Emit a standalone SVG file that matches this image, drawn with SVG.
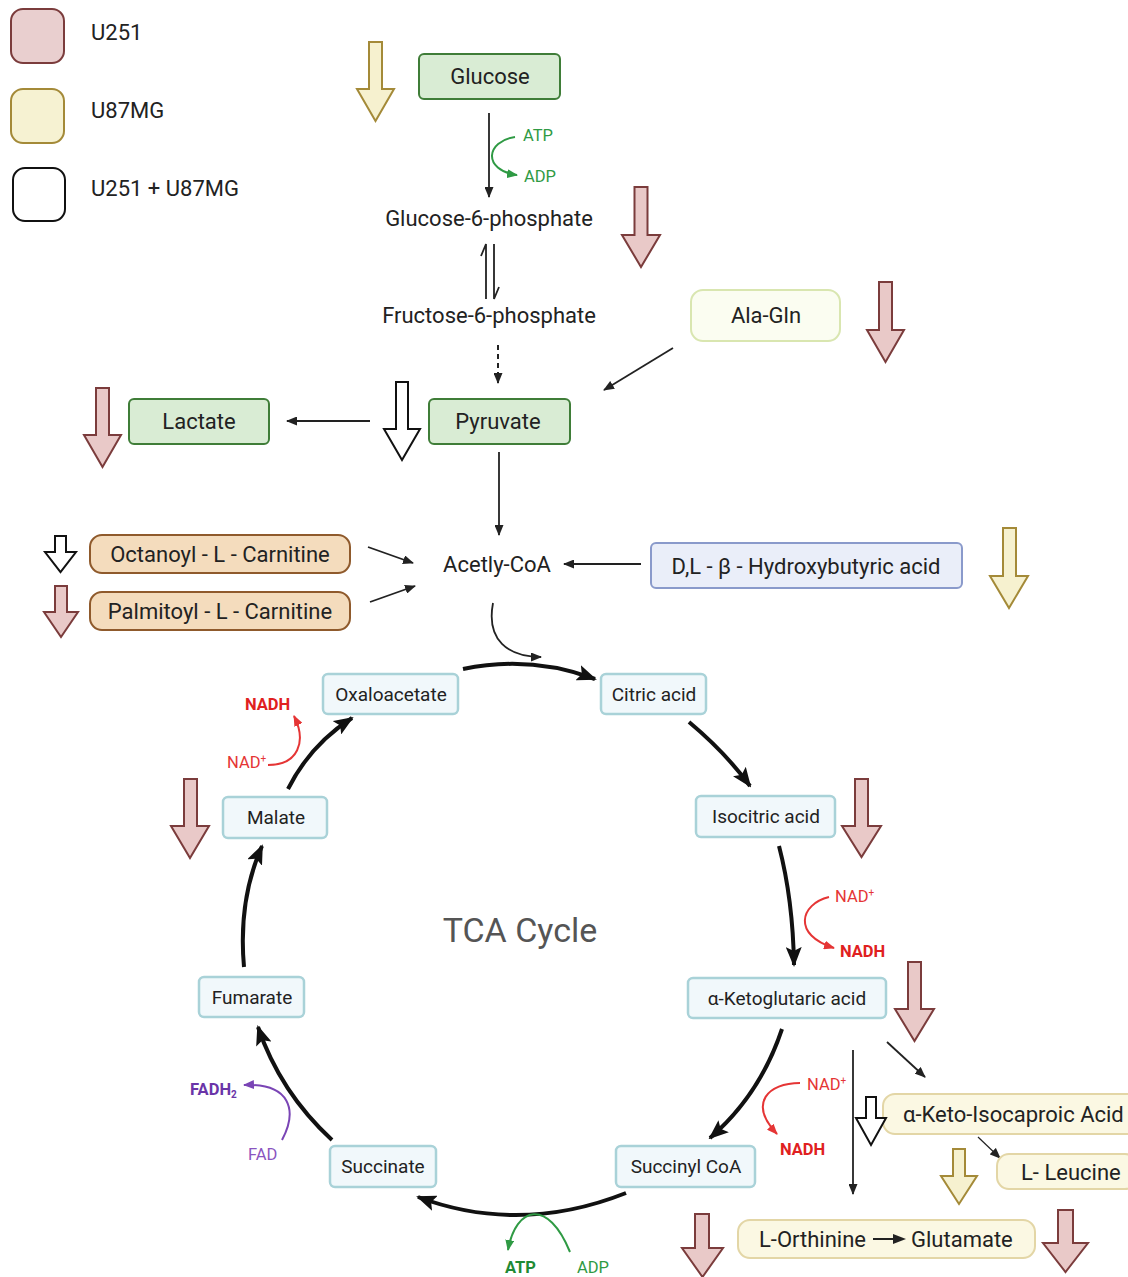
<svg xmlns="http://www.w3.org/2000/svg" width="1128" height="1277" viewBox="0 0 1128 1277">
<defs>
<style>
text{font-family:Roboto,"Liberation Sans",sans-serif;fill:#222}
.lg{font-size:22px}
.nt{font-size:22px;text-anchor:middle}
.tc{font-size:19px;text-anchor:middle}
.green{fill:#d9ecd4;stroke:#3f7d38;stroke-width:2}
.tan{fill:#f4dcbd;stroke:#8f5a2c;stroke-width:2}
.lav{fill:#eaeef9;stroke:#8a9acb;stroke-width:2}
.tcab{fill:#f1f8fb;stroke:#a9d2d8;stroke-width:2.5}
.yel{fill:#fbf8e3;stroke:#e3d6a6;stroke-width:2}
.aglow{fill:#fbfdf1;stroke:#d9e6b0;stroke-width:2}
.pink{fill:#e9c9c8;stroke:#7b3c3c;stroke-width:2;stroke-linejoin:miter}
.ylw{fill:#f6f1cf;stroke:#a48a38;stroke-width:2}
.wht{fill:#fff;stroke:#111;stroke-width:2}
.thin{fill:none;stroke:#222;stroke-width:1.8}
.thick{fill:none;stroke:#111;stroke-width:4}
.red{fill:#e53535;font-size:16.5px}
.redb{fill:#e02020;font-size:16.5px;font-weight:bold}
.grn{fill:#2f9a44;font-size:16.5px}
.grnb{fill:#1f8a35;font-size:16.5px;font-weight:bold}
.pur{fill:#8a55c0;font-size:16.5px}
.purb{fill:#6a35a8;font-size:16.5px;font-weight:bold}
</style>
<marker id="ah" markerUnits="userSpaceOnUse" markerWidth="11" markerHeight="9" refX="10" refY="4.5" orient="auto"><path d="M0,0 L11,4.5 L0,9 z" fill="#222"/></marker>
<marker id="ahb" markerUnits="userSpaceOnUse" markerWidth="20" markerHeight="16" refX="18" refY="8" orient="auto"><path d="M0,0 L20,8 L0,16 L4,8 z" fill="#111"/></marker>
<marker id="ahr" markerUnits="userSpaceOnUse" markerWidth="11" markerHeight="9" refX="10" refY="4.5" orient="auto"><path d="M0,0 L11,4.5 L0,9 z" fill="#e53535"/></marker>
<marker id="ahg" markerUnits="userSpaceOnUse" markerWidth="11" markerHeight="9" refX="10" refY="4.5" orient="auto"><path d="M0,0 L11,4.5 L0,9 z" fill="#2f9a44"/></marker>
<marker id="ahp" markerUnits="userSpaceOnUse" markerWidth="11" markerHeight="9" refX="10" refY="4.5" orient="auto"><path d="M0,0 L11,4.5 L0,9 z" fill="#7a45b5"/></marker>
</defs>
<rect width="1128" height="1277" fill="#fff"/>

<g id="legend">
<rect x="11" y="9" width="53" height="54" rx="12" fill="#e9cfcf" stroke="#7b3c3c" stroke-width="2"/>
<rect x="11" y="89" width="53" height="54" rx="12" fill="#f6f2d2" stroke="#a48a38" stroke-width="2"/>
<rect x="13" y="168" width="52" height="53" rx="12" fill="#fff" stroke="#111" stroke-width="2"/>
<text class="lg" x="91" y="40">U251</text>
<text class="lg" x="91" y="118">U87MG</text>
<text class="lg" x="91" y="196">U251 + U87MG</text>
</g>

<g id="connectors">
<line class="thin" x1="489" y1="113" x2="489" y2="197" marker-end="url(#ah)"/>
<path d="M515,137 C486,141 482,170 517,175" fill="none" stroke="#2f9a44" stroke-width="2" marker-end="url(#ahg)"/>
<path d="M486,299 V244 L481,256" fill="none" stroke="#222" stroke-width="1.8"/>
<path d="M494,244 V299 L499,287" fill="none" stroke="#222" stroke-width="1.8"/>
<line x1="498" y1="345" x2="498" y2="383" stroke="#222" stroke-width="2" stroke-dasharray="5,4" marker-end="url(#ah)"/>
<line class="thin" x1="673" y1="348" x2="604" y2="390" marker-end="url(#ah)"/>
<line class="thin" x1="370" y1="421" x2="287" y2="421" marker-end="url(#ah)"/>
<line class="thin" x1="499" y1="452" x2="499" y2="535" marker-end="url(#ah)"/>
<line class="thin" x1="368" y1="547" x2="413" y2="563" marker-end="url(#ah)"/>
<line class="thin" x1="370" y1="602" x2="415" y2="586" marker-end="url(#ah)"/>
<line class="thin" x1="641" y1="564" x2="564" y2="564" marker-end="url(#ah)"/>
<path class="thin" d="M493,603 C486,640 508,657 541,657" marker-end="url(#ah)"/>
<path class="thick" d="M463,669 Q530,655 595,679" marker-end="url(#ahb)"/>
<path class="thick" d="M689,722 Q725,752 750,786" marker-end="url(#ahb)"/>
<path class="thick" d="M779,846 Q793,900 794,965" marker-end="url(#ahb)"/>
<path class="thick" d="M782,1029 Q760,1095 710,1138" marker-end="url(#ahb)"/>
<path class="thick" d="M626,1193 Q520,1235 418,1197" marker-end="url(#ahb)"/>
<path class="thick" d="M332,1140 Q280,1092 258,1027" marker-end="url(#ahb)"/>
<path class="thick" d="M244,967 Q238,900 262,846" marker-end="url(#ahb)"/>
<path class="thick" d="M288,789 Q310,745 352,718" marker-end="url(#ahb)"/>
<path d="M829,897 C800,904 792,935 834,948" fill="none" stroke="#e53535" stroke-width="2" marker-end="url(#ahr)"/>
<path d="M800,1083 C768,1083 748,1103 777,1134" fill="none" stroke="#e53535" stroke-width="2" marker-end="url(#ahr)"/>
<path d="M268,765 C298,765 307,742 294,716" fill="none" stroke="#e53535" stroke-width="2" marker-end="url(#ahr)"/>
<path d="M282,1140 C298,1110 290,1083 244,1085" fill="none" stroke="#7a45b5" stroke-width="2" marker-end="url(#ahp)"/>
<path d="M570,1252 C548,1198 516,1206 508,1250" fill="none" stroke="#2f9a44" stroke-width="2" marker-end="url(#ahg)"/>
<line class="thin" x1="853" y1="1050" x2="853" y2="1194" marker-end="url(#ah)"/>
<line class="thin" x1="887" y1="1042" x2="925" y2="1077" marker-end="url(#ah)"/>
<line x1="978" y1="1137" x2="1000" y2="1158" stroke="#222" stroke-width="1.2" marker-end="url(#ah)"/>
</g>

<g id="glucose"><rect class="green" x="419" y="54" width="141" height="45" rx="5"/><text class="nt" x="490" y="84">Glucose</text></g>
<g id="g6p"><text class="nt" x="489" y="226">Glucose-6-phosphate</text></g>
<g id="f6p"><text class="nt" x="489" y="323">Fructose-6-phosphate</text></g>
<g id="alagln"><rect class="aglow" x="691" y="290" width="149" height="51" rx="12"/><text class="nt" x="766" y="323">Ala-Gln</text></g>
<g id="pyruvate"><rect class="green" x="429" y="399" width="141" height="45" rx="5"/><text class="nt" x="498" y="429">Pyruvate</text></g>
<g id="lactate"><rect class="green" x="129" y="399" width="140" height="45" rx="5"/><text class="nt" x="199" y="429">Lactate</text></g>
<g id="acetylcoa"><text class="nt" x="497" y="572">Acetly-CoA</text></g>
<g id="octanoyl"><rect class="tan" x="90" y="535" width="260" height="38" rx="12"/><text class="nt" x="220" y="562">Octanoyl - L - Carnitine</text></g>
<g id="palmitoyl"><rect class="tan" x="90" y="592" width="260" height="38" rx="12"/><text class="nt" x="220" y="619">Palmitoyl - L - Carnitine</text></g>
<g id="hydroxy"><rect class="lav" x="651" y="543" width="311" height="45" rx="5"/><text class="nt" x="806" y="574">D,L - β - Hydroxybutyric acid</text></g>

<g id="oxaloacetate"><rect class="tcab" x="323" y="674" width="135" height="40" rx="5"/><text class="tc" x="391" y="701">Oxaloacetate</text></g>
<g id="citric"><rect class="tcab" x="601" y="674" width="105" height="40" rx="5"/><text class="tc" x="654" y="701">Citric acid</text></g>
<g id="isocitric"><rect class="tcab" x="696" y="796" width="139" height="41" rx="5"/><text class="tc" x="766" y="823">Isocitric acid</text></g>
<g id="akg"><rect class="tcab" x="688" y="978" width="198" height="40" rx="5"/><text class="tc" x="787" y="1005">α-Ketoglutaric acid</text></g>
<g id="succinylcoa"><rect class="tcab" x="616" y="1146" width="139" height="41" rx="5"/><text class="tc" x="686" y="1173">Succinyl CoA</text></g>
<g id="succinate"><rect class="tcab" x="330" y="1146" width="106" height="41" rx="5"/><text class="tc" x="383" y="1173">Succinate</text></g>
<g id="fumarate"><rect class="tcab" x="199" y="977" width="105" height="40" rx="5"/><text class="tc" x="252" y="1004">Fumarate</text></g>
<g id="malate"><rect class="tcab" x="223" y="797" width="104" height="41" rx="5"/><text class="tc" x="276" y="824">Malate</text></g>
<g id="tca"><text x="520" y="942" font-size="34" text-anchor="middle" style="fill:#555">TCA Cycle</text></g>

<g id="kic"><rect class="yel" x="883" y="1094" width="260" height="40" rx="12"/><text x="903" y="1122" font-size="22">α-Keto-Isocaproic Acid</text></g>
<g id="leucine"><rect class="yel" x="997" y="1154" width="140" height="35" rx="12"/><text x="1021" y="1180" font-size="22">L- Leucine</text></g>
<g id="orthinine"><rect class="yel" x="738" y="1220" width="297" height="38" rx="12"/><text x="759" y="1247" font-size="22">L-Orthinine</text><text x="911" y="1247" font-size="22">Glutamate</text>
<line x1="873" y1="1239" x2="897" y2="1239" stroke="#222" stroke-width="2"/><path d="M893,1234 L906,1239 L893,1244 z" fill="#222"/></g>

<g id="cofactors">
<text class="grn" x="523" y="141">ATP</text>
<text class="grn" x="524" y="182">ADP</text>
<text class="red" x="835" y="902">NAD<tspan font-size="10" dy="-6">+</tspan></text>
<text class="redb" x="840" y="957">NADH</text>
<text class="red" x="807" y="1090">NAD<tspan font-size="10" dy="-6">+</tspan></text>
<text class="redb" x="780" y="1155">NADH</text>
<text class="red" x="227" y="768">NAD<tspan font-size="10" dy="-6">+</tspan></text>
<text class="redb" x="245" y="710">NADH</text>
<text class="pur" x="248" y="1160">FAD</text>
<text class="purb" x="190" y="1095">FADH<tspan font-size="10" dy="3">2</tspan></text>
<text class="grnb" x="505" y="1273">ATP</text>
<text class="grn" x="577" y="1273">ADP</text>
</g>

<g id="indicators">
<path class="ylw" d="M369,42 H382 V89 H394 L375.5,121 L357,89 H369 Z"/>
<path class="pink" d="M634.5,187 H647.5 V235 H660 L641,267 L622,235 H634.5 Z"/>
<path class="pink" d="M879,282 H892 V330 H904 L885.5,362 L867,330 H879 Z"/>
<path class="pink" d="M96,388 H109 V435 H121 L102.5,467 L84,435 H96 Z"/>
<path class="wht" d="M396,382 H408 V429 H420 L402,460 L384,429 H396 Z"/>
<path class="wht" d="M55,536 H66 V552 H76 L60.5,572 L45,552 H55 Z"/>
<path class="pink" d="M55,586 H67 V612 H78 L61,637 L44,612 H55 Z"/>
<path class="ylw" d="M1003,528 H1016 V576 H1028 L1009,608 L990,576 H1003 Z"/>
<path class="pink" d="M184,779 H197 V826 H209 L190,858 L171,826 H184 Z"/>
<path class="pink" d="M855,779 H868 V826 H881 L861.5,857 L842,826 H855 Z"/>
<path class="pink" d="M908,962 H921 V1009 H934 L914.5,1041 L895,1009 H908 Z"/>
<path class="wht" d="M866,1097 H876 V1118 H886 L871,1145 L856,1118 H866 Z"/>
<path class="ylw" d="M953,1149 H965 V1176 H977 L959,1204 L941,1176 H953 Z"/>
<path class="pink" d="M695,1214 H709 V1248 H723 L702.5,1277 L682,1248 H695 Z"/>
<path class="pink" d="M1058,1210 H1073 V1243 H1088 L1065.5,1272 L1043,1243 H1058 Z"/>
</g>
</svg>
